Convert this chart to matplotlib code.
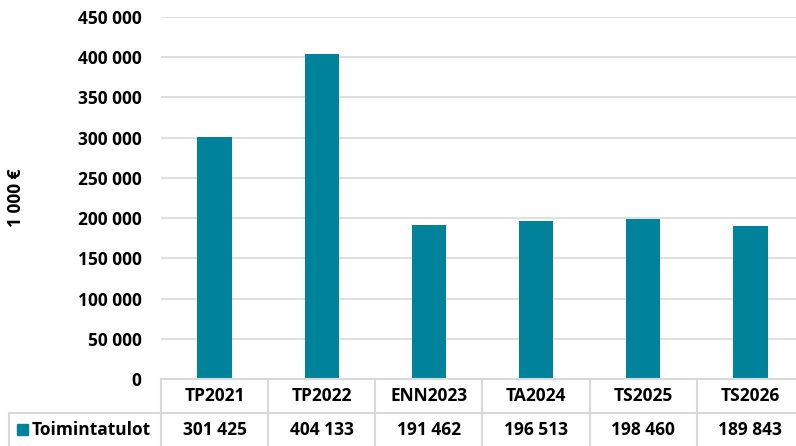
import matplotlib.pyplot as plt
from matplotlib.transforms import blended_transform_factory
from matplotlib.patches import Rectangle
from matplotlib.lines import Line2D

plt.rcParams['font.family'] = ['Open Sans', 'DejaVu Sans']
plt.rcParams['font.weight'] = 'bold'

categories = ['TP2021', 'TP2022', 'ENN2023', 'TA2024', 'TS2025', 'TS2026']
toimintatulot = [301425, 404133, 191462, 196513, 198460, 189843]
series_name = 'Toimintatulot'
ylabel = '1 000 €'
bar_color = '#00829B'
grid_color = '#D9D9D9'
fs = 12.5

def fmt(v):
    return f'{v:,.0f}'.replace(',', ' ')

W, H = 796, 446
fig = plt.figure(figsize=(W / 100, H / 100), dpi=100)
ax = fig.add_axes([161 / W, (H - 379) / H, 643 / W, (379 - 17) / H])

x = range(len(categories))
ax.bar(x, toimintatulot, width=0.32, color=bar_color, zorder=3)
ax.set_xlim(-0.5, len(categories) - 0.5)
ax.set_ylim(0, 450000)
ax.set_yticks(range(0, 450001, 50000))
ax.set_yticklabels([fmt(v) for v in range(0, 450001, 50000)], fontsize=fs, fontweight='bold')
ax.tick_params(axis='y', length=0, pad=14)
ax.set_xticks([])
ax.grid(axis='y', color=grid_color, linewidth=1.2, zorder=0)
for s in ax.spines.values():
    s.set_visible(False)
fig.text(16 / W, (H - 198) / H, ylabel, rotation=90, ha='center', va='center',
         fontsize=fs, fontweight='bold')

# data table below the axes
trans = blended_transform_factory(ax.transData, ax.transAxes)
axh = 379 - 17
row1 = -(413 - 379) / axh
row2 = -(460 - 379) / axh
left_x = -0.5 - (161 - 9) / 107.2

lines = [([-0.5, len(categories) - 0.5], [0, 0]),
         ([left_x, len(categories) - 0.5], [row1, row1]),
         ([left_x, left_x], [row1, row2])]
for i in range(len(categories) + 1):
    lines.append(([i - 0.5, i - 0.5], [0, row2]))
for xs, ys in lines:
    ax.add_line(Line2D(xs, ys, transform=trans, color=grid_color, linewidth=1.5,
                       clip_on=False, zorder=4))

yval = -(430 - 379) / axh
for i, (c, v) in enumerate(zip(categories, toimintatulot)):
    ax.text(i, row1 / 2, c, transform=trans, ha='center', va='center',
            fontsize=fs, fontweight='bold')
    ax.text(i, yval, fmt(v), transform=trans,
            ha='center', va='center', fontsize=fs, fontweight='bold')

fig.patches.append(Rectangle((17 / W, (H - 435) / H), 11 / W, 11 / H,
                             transform=fig.transFigure, color=bar_color))
fig.text(32 / W, (H - 430) / H, series_name, ha='left', va='center',
         fontsize=fs, fontweight='bold')

fig.savefig('out.png', dpi=100)
